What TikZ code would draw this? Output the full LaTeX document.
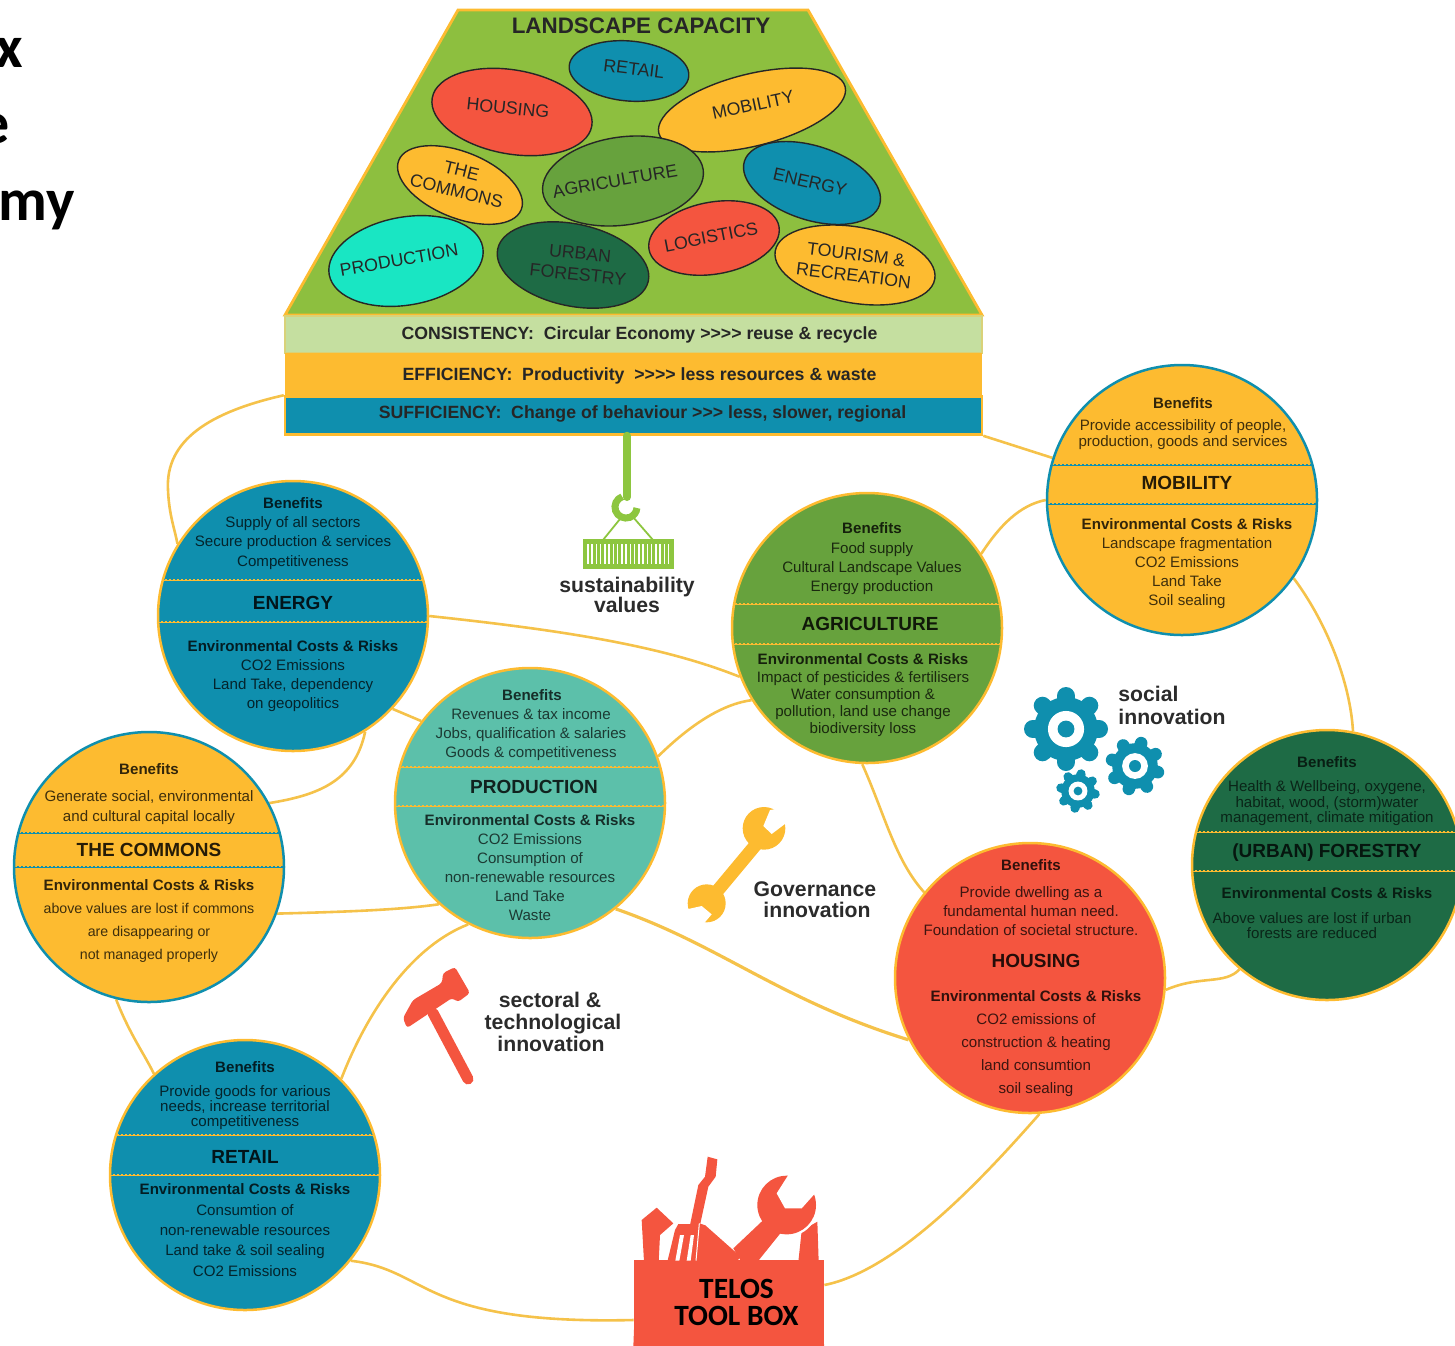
\documentclass[tikz,border=0pt]{standalone}
\usepackage{fontspec}
\setmainfont{Liberation Sans}
\newfontfamily\carl{Carlito}
\usetikzlibrary{shapes.geometric,backgrounds}
\definecolor{cYel}{HTML}{FDBB30}
\definecolor{cBlue}{HTML}{0F8FAE}
\definecolor{cTeal}{HTML}{5CC0AA}
\definecolor{cAgri}{HTML}{67A23D}
\definecolor{cFor}{HTML}{1E6B45}
\definecolor{cRed}{HTML}{F4553F}
\definecolor{cLand}{HTML}{8DBF3F}
\definecolor{cLight}{HTML}{C5DFA0}
\definecolor{cProd}{HTML}{19E6C3}
\definecolor{cLink}{HTML}{F5C24A}
\definecolor{cHook}{HTML}{8DC63F}
\definecolor{cInk}{HTML}{2B2B2B}
\colorlet{tc}{black}
\newcount\lblc
\newcommand\tl[4]{\global\advance\lblc by 1 \node[#1] (t\the\lblc) at (#2,#3) {#4};}
\newcommand\bandline[5]{% cx cy y colour
  \begin{scope}\clip (#1,#2) circle [radius=135];
  \draw[#5,line width=1.1pt,dash pattern=on 1.2pt off .8pt] (#1-140,#3) -- (#1+140,#3);
  \draw[#5,line width=.4pt] (#1-140,#3) -- (#1+140,#3);
  \draw[#5,line width=1.1pt,dash pattern=on 1.2pt off .8pt] (#1-140,#4) -- (#1+140,#4);
  \draw[#5,line width=.4pt] (#1-140,#4) -- (#1+140,#4);
  \end{scope}}
\newcommand\gearicon[4]{%
  \fill[cBlue] (#1,#2) circle [radius=0.76*#3];
  \foreach \a in {0,45,...,315}
    \draw[cBlue,line width=0.21*#3 pt,line cap=round] (#1,#2) -- ++(\a+#4:0.79*#3);
  \fill[white] (#1,#2) circle [radius=0.43*#3];
  \fill[cBlue] (#1,#2) circle [radius=0.2*#3];}
\newcommand\ovalitem[7]{%
  \node[ovalshape,fill=#2,minimum width=#3pt,minimum height=#4pt,rotate=#5] (#1) at (#6,#7) {};}
\tikzset{
  panel/.style={circle,inner sep=0pt,minimum size=135pt,line width=1.25pt},
  rg/.style={text=tc,inner sep=0pt,text height=7.2pt,text depth=1.6pt,font=\fontsize{7.55}{9}\selectfont},
  rgn/.style={rg,font=\fontsize{7.1}{9}\selectfont},
  bd/.style={text=tc!80!black,inner sep=0pt,text height=7.2pt,text depth=1.6pt,font=\fontsize{7.55}{9}\bfseries},
  hd/.style={text=tc!60!black,inner sep=0pt,text height=7.2pt,text depth=0pt,font=\fontsize{9.5}{11}\bfseries},
  ovalshape/.style={ellipse,draw=black!85,line width=.7pt,inner sep=0pt},
  ovaltext/.style={inner sep=0pt,align=center,text=black!85,font=\fontsize{8.9}{10.6}\selectfont},
  strip/.style={rectangle,inner sep=0pt,minimum width=348.5pt,text=black!85,text height=6.8pt,text depth=1.8pt,font=\fontsize{8.85}{10}\bfseries},
  link/.style={cLink,line width=1.3pt},
  captxt/.style={text=cInk,inner sep=0pt,text height=8.8pt,text depth=2pt,font=\fontsize{10.6}{12}\bfseries}
}
\begin{document}
\begin{tikzpicture}[x=0.5pt,y=-0.5pt]
\clip (0,0) rectangle (1455,1345);
\useasboundingbox (0,0) rectangle (1455,1345);
% cut-off heading
\tl{anchor=base east,inner sep=0pt,font=\carl\fontsize{30}{32}\bfseries}{23}{67}{x}
\tl{anchor=base east,inner sep=0pt,font=\carl\fontsize{30}{32}\bfseries}{10}{143}{e}
\tl{anchor=base east,inner sep=0pt,font=\carl\fontsize{30}{32}\bfseries}{75}{220}{my}
% landscape trapezoid
\filldraw[fill=cLand,draw=cYel,line width=1.4pt,line join=miter] (458,10) -- (808,10) -- (982,315) -- (285,315) -- cycle;
\tl{text=black!85,inner sep=0pt,font=\fontsize{11.2}{13}\bfseries}{641}{26}{LANDSCAPE CAPACITY}
\ovalitem{oRetail}{cBlue}{60}{30}{-5}{629}{71}
\ovalitem{oHousing}{cRed}{81}{42}{-10}{512}{112}
\ovalitem{oMob}{cYel}{96}{36}{14}{752}{110}
\ovalitem{oCom}{cYel}{66}{33}{-22}{460}{185}
\ovalitem{oAgri}{cAgri}{81}{44}{8}{623}{181}
\ovalitem{oEn}{cBlue}{71}{37}{-18}{812}{183}
\ovalitem{oProd}{cProd}{78}{44}{10}{406}{261}
\ovalitem{oFor}{cFor}{77}{41}{-12}{573}{265}
\ovalitem{oLog}{cRed}{66}{36}{10}{714}{238}
\ovalitem{oTour}{cYel}{81}{38}{-10}{855}{265}
\tl{ovaltext,rotate=-7}{634}{69}{RETAIL}
\tl{ovaltext,rotate=-6}{508}{108}{HOUSING}
\tl{ovaltext,rotate=12}{753}{105}{MOBILITY}
\tl{ovaltext,rotate=-14}{459}{181}{THE\\COMMONS}
\tl{ovaltext,rotate=10}{615}{181}{AGRICULTURE}
\tl{ovaltext,rotate=-13}{810}{182}{ENERGY}
\tl{ovaltext,rotate=10}{399}{260}{PRODUCTION}
\tl{ovaltext,rotate=-6}{579}{264}{URBAN\\FORESTRY}
\tl{ovaltext,rotate=11}{711}{237}{LOGISTICS}
\tl{ovaltext,rotate=-7}{855}{265}{TOURISM \&\\RECREATION}
% strips
\node[strip,fill=cLight,draw=cYel!35!cLight,line width=1pt,minimum height=18.5pt] (sCons) at (633.5,334) {\hspace*{6pt}CONSISTENCY:\ \ Circular Economy >{}>{}>{}> reuse \& recycle};
\node[strip,fill=cYel,minimum height=22pt] (sEff) at (633.5,375) {\hspace*{6pt}EFFICIENCY:\ \ Productivity\ \ >{}>{}>{}> less resources \& waste};
\node[strip,fill=cBlue,draw=cYel,line width=1.25pt,minimum height=19pt] (sSuf) at (633.5,415.5) {\raisebox{1pt}{\hspace*{9pt}SUFFICIENCY:\ \ Change of behaviour >{}>{}> less, slower, regional}};
% circles
\node[panel,fill=cBlue,draw=cYel] (energy) at (293,616) {};
\node[panel,fill=cYel,draw=cBlue] (commons) at (149,867) {};
\node[panel,fill=cTeal,draw=cYel] (production) at (530,803) {};
\node[panel,fill=cAgri,draw=cYel] (agriculture) at (867,628) {};
\node[panel,fill=cYel,draw=cBlue] (mobility) at (1182,500) {};
\node[panel,fill=cFor,draw=cYel] (forestry) at (1327,865) {};
\node[panel,fill=cRed,draw=cYel] (housing) at (1030,978) {};
\node[panel,fill=cBlue,draw=cYel] (retail) at (245,1175) {};
\bandline{293}{616}{580}{622}{cYel}
\bandline{149}{867}{833}{867}{cBlue}
\bandline{530}{803}{767}{806}{cYel}
\bandline{867}{628}{604}{644}{cYel}
\bandline{1182}{500}{465}{504}{cBlue}
\bandline{1327}{865}{832}{871}{cYel}
\bandline{245}{1175}{1135}{1175}{cYel}
% tool box
\node[rectangle,fill=cRed,inner sep=0pt,minimum width=95pt,minimum height=42.5pt] (toolbox) at (729,1302.5) {};
\begin{scope}[shift={(620,1140)},x=0.16667pt,y=-0.16667pt]
\fill[cRed] (50,360) -- (40,620) -- (612,620) -- (610,360) -- cycle;
% gable post
\fill[cRed] (72,365) -- (65,240) -- (110,203) -- (160,250) -- (120,285) -- (116,365) -- cycle;
% fork
\fill[cRed] (263,50) -- (292,58) -- (287,110) -- (265,140) -- (240,255) -- (210,255) -- (235,135) -- (255,110) -- cycle;
\fill[cRed] (175,252) -- (245,252) -- (240,365) -- (142,365) -- (165,270) -- cycle;
\fill[white] (180,285) -- (192,285) -- (178,362) -- (166,362) -- cycle;
\fill[white] (212,285) -- (222,285) -- (212,362) -- (200,362) -- cycle;
% plane
\fill[cRed] (238,250) -- (256,256) -- (362,350) -- (352,362) -- (222,362) -- cycle;
\draw[white,line width=.5pt] (238,250) -- (228,362);
% spanner
\fill[cRed] (545,272) -- (592,245) -- (596,365) -- (535,365) -- cycle;
\fill[white] (500,195) circle [radius=95];
\fill[cRed] (500,195) circle [radius=88];
\fill[white] (508,100) -- (470,160) -- (495,205) -- (545,205) -- (578,168) -- (610,130) -- (560,90) -- cycle;
\fill[white] (590,200) -- (620,180) -- (620,250) -- (595,250) -- cycle;
\fill[cRed] (340,325) -- (430,240) -- (485,275) -- (415,362) -- (362,362) -- cycle;
\end{scope}
\tl{text=black,inner sep=0pt,align=center,font=\carl\fontsize{14.7}{13.5}\bfseries}{736.5}{1302}{TELOS\\TOOL BOX}
% connectors
\begin{scope}[on background layer]
\draw[link] (sSuf.north west) .. controls (210,412) and (165,440) .. (168,490) .. controls (169,515) and (175,530) .. (energy.148);
\draw[link] (sSuf.south east) -- (mobility.162);
\draw[link] (mobility.180) .. controls (1020,505) and (1000,525) .. (agriculture.33);
\draw[link] (mobility.-35) .. controls (1325,620) and (1350,680) .. (forestry.79);
\draw[link] (forestry.230) .. controls (1225,985) and (1200,975) .. (housing.-5);
\draw[link] (agriculture.-92) .. controls (885,815) and (895,860) .. (housing.141);
\draw[link] (energy.0) .. controls (560,630) and (660,645) .. (agriculture.201);
\draw[link] (production.20.5) .. controls (680,735) and (715,705) .. (agriculture.212);
\draw[link] (energy.-43) -- (production.143.6);
\draw[link] (energy.-58) .. controls (355,780) and (320,795) .. (commons.28);
\draw[link] (commons.-20) .. controls (340,912) and (400,910) .. (production.228.6);
\draw[link,line width=1.6pt] (production.-51) .. controls (720,945) and (780,1000) .. (housing.207);
\draw[link] (production.243) .. controls (415,945) and (370,1005) .. (retail.45);
\draw[link] (commons.256) .. controls (130,1035) and (145,1055) .. (retail.132);
\draw[link] (retail.-39) .. controls (430,1270) and (420,1325) .. (toolbox.south west |- 0,1320);
\draw[link] (housing.-86) .. controls (990,1170) and (900,1270) .. (toolbox.east |- 0,1285);
\end{scope}
% text in circles
\colorlet{tc}{black!50!cBlue!50!black}
\tl{bd}{293}{503}{Benefits}\tl{rg}{293}{522}{Supply of all sectors}\tl{rg}{293}{541}{Secure production \& services}\tl{rg}{293}{561}{Competitiveness}
\tl{hd}{293}{602}{ENERGY}\tl{bd}{293}{646}{Environmental Costs \& Risks}\tl{rg}{293}{665}{CO2 Emissions}\tl{rg}{293}{684}{Land Take, dependency}\tl{rg}{293}{703}{on geopolitics}
\tl{bd}{245}{1067}{Benefits}\tl{rg}{245}{1091}{Provide goods for various}\tl{rg}{245}{1106}{needs, increase territorial}\tl{rg}{245}{1121}{competitiveness}
\tl{hd}{245}{1156}{RETAIL}\tl{bd}{245}{1189}{Environmental Costs \& Risks}\tl{rg}{245}{1210}{Consumtion of}\tl{rg}{245}{1230}{non-renewable resources}\tl{rg}{245}{1250}{Land take \& soil sealing}\tl{rg}{245}{1271}{CO2 Emissions}
\colorlet{tc}{black!75!cYel}
\tl{bd}{149}{769}{Benefits}\tl{rg}{149}{796}{Generate social, environmental}\tl{rg}{149}{816}{and cultural capital locally}
\tl{hd}{149}{849}{THE COMMONS}\tl{bd}{149}{885}{Environmental Costs \& Risks}\tl{rgn}{149}{908}{above values are lost if commons}\tl{rgn}{149}{931}{are disappearing or}\tl{rgn}{149}{954}{not managed properly}
\tl{bd}{1183}{403}{Benefits}\tl{rg}{1183}{425}{Provide accessibility of people,}\tl{rg}{1183}{441}{production, goods and services}
\tl{hd}{1187}{482}{MOBILITY}\tl{bd}{1187}{524}{Environmental Costs \& Risks}\tl{rg}{1187}{543}{Landscape fragmentation}\tl{rg}{1187}{562}{CO2 Emissions}\tl{rg}{1187}{581}{Land Take}\tl{rg}{1187}{600}{Soil sealing}
\colorlet{tc}{black!70!cTeal}
\tl{bd}{532}{695}{Benefits}\tl{rg}{531}{714}{Revenues \& tax income}\tl{rg}{531}{733}{Jobs, qualification \& salaries}\tl{rg}{531}{752}{Goods \& competitiveness}
\tl{hd}{534}{786}{PRODUCTION}\tl{bd}{530}{820}{Environmental Costs \& Risks}\tl{rg}{530}{839}{CO2 Emissions}\tl{rg}{530}{858}{Consumption of}\tl{rg}{530}{877}{non-renewable resources}\tl{rg}{530}{896}{Land Take}\tl{rg}{530}{915}{Waste}
\colorlet{tc}{black!75!cAgri}
\tl{bd}{872}{528}{Benefits}\tl{rg}{872}{548}{Food supply}\tl{rg}{872}{567}{Cultural Landscape Values}\tl{rg}{872}{586}{Energy production}
\tl{hd}{870}{623}{AGRICULTURE}\tl{bd}{863}{659}{Environmental Costs \& Risks}\tl{rg}{863}{677}{Impact of pesticides \& fertilisers}\tl{rg}{863}{694}{Water consumption \&}\tl{rg}{863}{711}{pollution, land use change}\tl{rg}{863}{728}{biodiversity loss}
\colorlet{tc}{black!65!cFor}
\tl{bd}{1327}{762}{Benefits}\tl{rg}{1327}{786}{Health \& Wellbeing, oxygene,}\tl{rg}{1327}{802}{habitat, wood, (storm)water}\tl{rg}{1327}{817}{management, climate mitigation}
\tl{hd}{1327}{850}{(URBAN) FORESTRY}\tl{bd}{1327}{893}{Environmental Costs \& Risks}\tl{rg}{1312}{918}{Above values are lost if urban}\tl{rg}{1312}{933}{forests are reduced}
\colorlet{tc}{black!75!cRed}
\tl{bd}{1031}{865}{Benefits}\tl{rg}{1031}{892}{Provide dwelling as a}\tl{rg}{1031}{911}{fundamental human need.}\tl{rg}{1031}{930}{Foundation of societal structure.}
\tl{hd}{1036}{960}{HOUSING}\tl{bd}{1036}{996}{Environmental Costs \& Risks}\tl{rg}{1036}{1019}{CO2 emissions of}\tl{rg}{1036}{1042}{construction \& heating}\tl{rg}{1036}{1065}{land consumtion}\tl{rg}{1036}{1088}{soil sealing}
% sustainability icon
\draw[cHook,line width=4pt,line cap=round] (sSuf.south -| 627,0) -- (627,497);
\draw[cHook,line width=3.5pt] (622.2,496.7) arc[start angle=250,end angle=5,radius=11];
\draw[cHook,line width=.9pt] (620,519) -- (603,540) (633,517) -- (653,540);
\fill[cHook] (583,539) rectangle (674,569);
\foreach \i in {0,...,19} \fill[white] (587+\i*4.25,544) rectangle (588.7+\i*4.25,564);
\tl{captxt}{627}{586}{sustainability}\tl{captxt}{627}{606}{values}
% gears
\gearicon{1066}{729}{42}{0}
\gearicon{1135}{766}{30}{15}
\gearicon{1078}{791}{22}{10}
\tl{captxt,anchor=west}{1118}{695}{social}\tl{captxt,anchor=west}{1118}{718}{innovation}
% wrench
\begin{scope}[shift={(390,800)},x=0.16667pt,y=-0.16667pt]
\draw[cYel,line width=6.5pt] (1105,125) -- (955,305);
\fill[cYel] (1122,85) circle [radius=64];
\fill[cYel] (950,310) circle [radius=57];
\fill[white] (1140,30) -- (1120,78) -- (1145,102) -- (1190,68) -- (1200,20) -- cycle;
\fill[white] (890,328) -- (935,318) -- (965,343) -- (940,372) -- (870,385) -- cycle;
\end{scope}
\tl{captxt}{815}{890}{Governance}\tl{captxt}{817}{911}{innovation}
% hammer
\draw[cRed,line width=5.5pt,line cap=round] (433,1013) -- (468,1079);
\fill[cRed,rounded corners=1.5pt] (403,1018) -- (413,1000) -- (442,983) -- (443,973) -- (455,967) -- (470,993) -- (458,1002) -- (452,998) -- (407,1028) -- cycle;
\tl{captxt}{550}{1001}{sectoral \&}\tl{captxt}{553}{1023}{technological}\tl{captxt}{551}{1045}{innovation}
\end{tikzpicture}
\end{document}
